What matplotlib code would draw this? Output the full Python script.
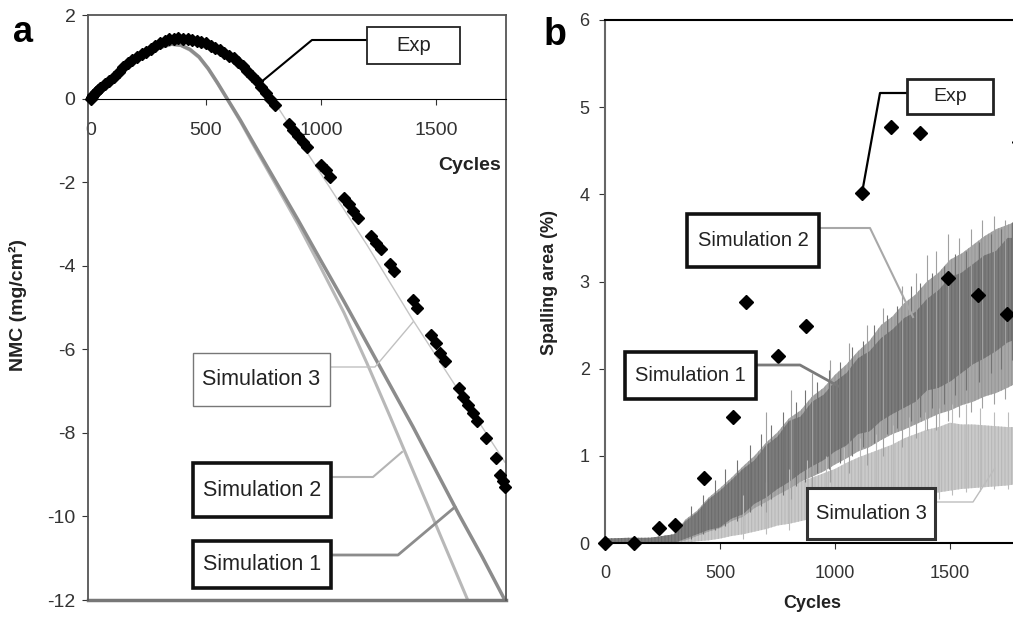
import matplotlib
matplotlib.use('Agg')
import matplotlib.pyplot as plt
from matplotlib.patches import Rectangle
from matplotlib.lines import Line2D

plt.rcParams['font.family'] = ['Liberation Sans', 'DejaVu Sans']
plt.rcParams['axes.unicode_minus'] = False
plt.rcParams['hatch.linewidth'] = 0.7

# ---- panel a : NMC vs cycles ----
exp_a_x = [0, 5, 10, 20, 30, 40, 60, 80, 100, 120, 140, 160, 180, 200,
           220, 240, 260, 280, 300, 320, 340, 360, 380, 400,
           420, 440, 460, 480, 500, 520, 540, 560, 580, 600,
           620, 640, 660, 680, 700, 720, 740, 760, 780, 800,
           860, 880, 900, 920, 940, 1000, 1020, 1040, 1100, 1120, 1140, 1160,
           1220, 1240, 1260, 1300, 1320, 1400, 1420, 1480, 1500, 1520, 1540,
           1600, 1620, 1640, 1660, 1680, 1720, 1760, 1780, 1790, 1800]
exp_a_y = [0, 0.04, 0.08, 0.15, 0.21, 0.26, 0.34, 0.42, 0.52, 0.64, 0.76, 0.86, 0.93, 1.0,
           1.07, 1.12, 1.18, 1.25, 1.32, 1.37, 1.42, 1.43, 1.44, 1.43,
           1.42, 1.40, 1.38, 1.35, 1.32, 1.27, 1.22, 1.17, 1.10, 1.03,
           0.96, 0.88, 0.77, 0.65, 0.54, 0.42, 0.28, 0.14, 0.0, -0.15,
           -0.60, -0.75, -0.89, -1.03, -1.16, -1.58, -1.72, -1.87, -2.37, -2.53, -2.69, -2.85,
           -3.30, -3.45, -3.61, -3.95, -4.12, -4.83, -5.02, -5.65, -5.86, -6.08, -6.29,
           -6.93, -7.13, -7.33, -7.52, -7.72, -8.12, -8.6, -9.0, -9.15, -9.3]

sim_a_x = [0, 50, 100, 150, 200, 250, 300, 350, 390, 430, 470, 510, 550, 590, 650, 700,
           800, 900, 1000, 1100, 1200, 1300, 1400, 1500, 1600, 1700, 1800]
sim1_a = [0, 0.3, 0.55, 0.77, 0.95, 1.1, 1.22, 1.3, 1.28, 1.18, 1.0, 0.72, 0.38, 0.02, -0.52, -1.0,
          -1.95, -2.9, -3.88, -4.85, -5.85, -6.85, -7.85, -8.9, -9.95, -10.95, -12.0]
sim2_a = [0, 0.3, 0.55, 0.77, 0.95, 1.1, 1.22, 1.3, 1.27, 1.16, 0.98, 0.7, 0.36, 0.0, -0.55, -1.05,
          -2.02, -3.0, -4.05, -5.12, -6.33, -7.6, -8.9, -10.2, -11.5, -12.8, -14.0]
sim3_a = [0, 0.3, 0.55, 0.8, 0.98, 1.12, 1.25, 1.33, 1.36, 1.33, 1.26, 1.17, 1.07, 0.96, 0.75, 0.55,
          -0.1, -0.95, -1.8, -2.65, -3.5, -4.4, -5.3, -6.15, -7.0, -7.85, -8.7]

# ---- panel b : spalling area vs cycles ----
exp_b_x = [0, 126, 235, 304, 430, 557, 613, 752, 874, 1117, 1243, 1370, 1491, 1622, 1748, 1800]
exp_b_y = [0, 0, 0.17, 0.21, 0.75, 1.45, 2.77, 2.14, 2.49, 4.02, 4.77, 4.70, 3.04, 2.85, 2.63, 4.6]

band_x = [0, 100, 200, 300, 350, 400, 450, 500, 550, 600, 650, 700, 750, 800, 850, 900, 950, 1000,
          1050, 1100, 1150, 1200, 1250, 1300, 1350, 1400, 1450, 1500, 1550, 1600, 1650, 1700, 1750, 1800, 1850]
sim1_lo = [0, 0, 0, 0, 0.05, 0.1, 0.15, 0.18, 0.28, 0.33, 0.45, 0.52, 0.62, 0.7, 0.8, 0.88, 0.95, 1.05,
           1.12, 1.25, 1.28, 1.4, 1.48, 1.55, 1.62, 1.75, 1.78, 1.85, 1.95, 2.05, 2.12, 2.2, 2.3, 2.35, 2.45]
sim1_hi = [0.05, 0.06, 0.06, 0.1, 0.25, 0.35, 0.5, 0.6, 0.72, 0.85, 0.95, 1.12, 1.22, 1.4, 1.45, 1.62, 1.7, 1.85,
           1.95, 2.12, 2.2, 2.35, 2.45, 2.58, 2.65, 2.8, 2.9, 3.05, 3.1, 3.2, 3.3, 3.35, 3.5, 3.5, 3.55]
sim2_lo = [0, 0, 0, 0, 0.03, 0.08, 0.13, 0.17, 0.25, 0.3, 0.4, 0.47, 0.55, 0.62, 0.7, 0.76, 0.82, 0.9,
           0.97, 1.05, 1.1, 1.18, 1.25, 1.3, 1.36, 1.42, 1.48, 1.52, 1.58, 1.62, 1.68, 1.72, 1.78, 1.85, 1.9]
sim2_hi = [0.05, 0.05, 0.06, 0.1, 0.27, 0.37, 0.52, 0.63, 0.75, 0.88, 1.0, 1.15, 1.27, 1.43, 1.52, 1.68, 1.78, 1.93,
           2.05, 2.2, 2.32, 2.5, 2.6, 2.75, 2.85, 3.0, 3.1, 3.25, 3.32, 3.42, 3.52, 3.6, 3.65, 3.7, 3.75]
sim3_lo = [0, 0, 0, 0, 0, 0.02, 0.03, 0.05, 0.08, 0.1, 0.13, 0.16, 0.2, 0.22, 0.25, 0.28, 0.3, 0.33,
           0.36, 0.4, 0.42, 0.45, 0.48, 0.5, 0.53, 0.55, 0.58, 0.6, 0.62, 0.63, 0.64, 0.65, 0.66, 0.68, 0.7]
sim3_hi = [0.05, 0.05, 0.06, 0.06, 0.12, 0.18, 0.22, 0.28, 0.35, 0.42, 0.47, 0.54, 0.6, 0.66, 0.7, 0.75, 0.8, 0.85,
           0.92, 0.98, 1.03, 1.08, 1.13, 1.2, 1.25, 1.3, 1.33, 1.38, 1.36, 1.36, 1.35, 1.34, 1.33, 1.33, 1.33]

# streaks sticking out of the bands
sim1_sp_x = [375, 425, 480, 520, 575, 630, 680, 720, 775, 830, 870, 920, 975, 1020, 1075,
             1120, 1170, 1225, 1270, 1330, 1370, 1420, 1475, 1520, 1570, 1625, 1680, 1720, 1770]
sim1_sp_lo = [0.05, 0.1, 0.15, 0.2, 0.25, 0.35, 0.42, 0.5, 0.55, 0.65, 0.7, 0.8, 0.85, 0.92, 1.0,
              1.1, 1.15, 1.25, 1.32, 1.4, 1.45, 1.55, 1.6, 1.7, 1.75, 1.85, 1.95, 2.0, 2.1]
sim1_sp_hi = [0.42, 0.55, 0.72, 0.85, 0.95, 1.12, 1.25, 1.35, 1.5, 1.62, 1.75, 1.85, 1.98, 2.08, 2.25,
              2.32, 2.5, 2.62, 2.72, 2.95, 2.98, 3.1, 3.18, 3.32, 3.35, 3.45, 3.55, 3.6, 3.68]
sim2_sp_x = [700, 810, 900, 980, 1060, 1140, 1210, 1290, 1350, 1400, 1440, 1490, 1540, 1590, 1640, 1690, 1740, 1790]
sim2_sp_lo = [0.35, 0.5, 0.6, 0.7, 0.8, 0.9, 1.0, 1.1, 1.2, 1.3, 1.3, 1.4, 1.45, 1.5, 1.55, 1.6, 1.65, 1.7]
sim2_sp_hi = [1.5, 1.75, 1.95, 2.1, 2.3, 2.5, 2.7, 2.95, 3.1, 3.3, 3.35, 3.55, 3.5, 3.6, 3.7, 3.75, 3.7, 3.8]
sim3_sp_x = [600, 700, 800, 880, 960, 1040, 1110, 1180, 1250, 1320, 1390, 1450, 1510, 1570, 1630, 1690, 1750, 1800]
sim3_sp_lo = [0.05, 0.1, 0.15, 0.2, 0.22, 0.28, 0.3, 0.35, 0.4, 0.45, 0.48, 0.5, 0.55, 0.58, 0.6, 0.62, 0.62, 0.65]
sim3_sp_hi = [0.55, 0.7, 0.85, 0.95, 1.0, 1.1, 1.2, 1.25, 1.35, 1.45, 1.5, 1.55, 1.6, 1.6, 1.55, 1.5, 1.5, 1.55]

W, H = 1013, 617
fig = plt.figure(figsize=(W / 100, H / 100), dpi=100)


def box(x0, y0, x1, y1, text, lw, ec, fs):
    fig.add_artist(Rectangle((x0 / W, 1 - y1 / H), (x1 - x0) / W, (y1 - y0) / H,
                             transform=fig.transFigure, facecolor='white',
                             edgecolor=ec, linewidth=lw, zorder=5))
    fig.text((x0 + x1) / 2 / W, 1 - (y0 + y1) / 2 / H, text, ha='center', va='center',
             fontsize=fs, color='#222222', zorder=6)


def leader(pts, color, lw):
    fig.add_artist(Line2D([p[0] / W for p in pts], [1 - p[1] / H for p in pts],
                          transform=fig.transFigure, color=color, linewidth=lw, zorder=4))


# panel a
ax = fig.add_axes([88 / W, 1 - 600 / H, 418 / W, 585 / H])
ax.plot(sim_a_x, sim3_a, color='#c4c4c4', lw=1.0)
ax.plot(sim_a_x, sim2_a, color='#b8b8b8', lw=2.2)
ax.plot(sim_a_x, sim1_a, color='#8c8c8c', lw=2.5)
ax.plot(exp_a_x, exp_a_y, 'D', color='black', ms=6, clip_on=False, zorder=3)
ax.set_xlim(-13, 1805)
ax.set_ylim(-12, 2)
ax.spines['bottom'].set_position(('data', 0))
ax.spines['bottom'].set_color('black')
for s in ['left', 'top', 'right']:
    ax.spines[s].set_color('#555555')
    ax.spines[s].set_linewidth(1.3)
ax.axhline(-12, color='#777777', lw=2.5, clip_on=False)
ax.set_xticks([0, 500, 1000, 1500])
ax.set_yticks([2, 0, -2, -4, -6, -8, -10, -12])
ax.tick_params(axis='x', labelsize=14, pad=13, length=4, colors='#333333')
ax.tick_params(axis='y', labelsize=14, pad=5, length=4, colors='#333333')
ax.text(1648, -1.6, 'Cycles', ha='center', va='center', fontsize=14, fontweight='bold', color='#222222')
fig.text(18 / W, 1 - 305 / H, 'NMC (mg/cm²)', rotation=90, ha='center', va='center',
         fontsize=14, fontweight='bold', color='#222222')
fig.text(23 / W, 1 - 33 / H, 'a', ha='center', va='center', fontsize=26, fontweight='bold')

box(367, 27, 460, 64, 'Exp', 1.3, '#222222', 14.5)
leader([(367, 40), (312, 40), (260, 83)], 'black', 1.5)
box(193, 353, 330, 406, 'Simulation 3', 1.0, '#777777', 15.5)
leader([(330, 367), (375, 367), (413, 322)], '#c0c0c0', 1.0)
box(193, 463, 331, 517, 'Simulation 2', 2.6, '#111111', 15.5)
leader([(331, 477), (373, 477), (402, 452)], '#b4b4b4', 1.5)
box(193, 541, 331, 588, 'Simulation 1', 2.6, '#111111', 15.5)
leader([(331, 555), (398, 555), (455, 507)], '#8c8c8c', 2.0)

# panel b
bx = fig.add_axes([605 / W, 1 - 543 / H, 460 / W, 523 / H])
bx.fill_between(band_x, sim3_lo, sim3_hi, facecolor='#cacaca', edgecolor='#b6b6b6', hatch='|||||', lw=0)
bx.vlines(sim3_sp_x, sim3_sp_lo, sim3_sp_hi, color='#bcbcbc', lw=0.8)
bx.fill_between(band_x, sim2_lo, sim2_hi, facecolor='#a8a8a8', edgecolor='#959595', hatch='|||||', lw=0)
bx.vlines(sim2_sp_x, sim2_sp_lo, sim2_sp_hi, color='#a0a0a0', lw=0.8)
bx.fill_between(band_x, sim1_lo, sim1_hi, facecolor='#7c7c7c', edgecolor='#6a6a6a', hatch='|||||', lw=0)
bx.vlines(sim1_sp_x, sim1_sp_lo, sim1_sp_hi, color='#737373', lw=0.8)
bx.plot(exp_b_x, exp_b_y, 'D', color='black', ms=7.5, clip_on=False, zorder=3)
bx.set_xlim(0, 2000)
bx.set_ylim(0, 6)
bx.spines['left'].set_color('#666666')
bx.spines['left'].set_linewidth(1.5)
bx.spines['bottom'].set_linewidth(1.5)
bx.spines['top'].set_linewidth(1.5)
bx.set_xticks([0, 500, 1000, 1500])
bx.set_yticks([0, 1, 2, 3, 4, 5, 6])
bx.tick_params(axis='x', labelsize=13, pad=12, length=4, colors='#333333')
bx.tick_params(axis='y', labelsize=13, pad=7, length=4, colors='#333333')
fig.text(812 / W, 1 - 603 / H, 'Cycles', ha='center', va='center', fontsize=13,
         fontweight='bold', color='#222222')
fig.text(549 / W, 1 - 282 / H, 'Spalling area (%)', rotation=90, ha='center', va='center',
         fontsize=13, fontweight='bold', color='#222222')
fig.text(555 / W, 1 - 35 / H, 'b', ha='center', va='center', fontsize=27, fontweight='bold')

box(907, 79, 993, 114, 'Exp', 2.0, '#222222', 14)
leader([(907, 93), (880, 93), (862, 193)], 'black', 1.6)
box(687, 214, 819, 267, 'Simulation 2', 2.6, '#111111', 14.5)
leader([(819, 228), (870, 228), (913, 317)], '#a8a8a8', 1.5)
box(625, 352, 756, 399, 'Simulation 1', 2.6, '#111111', 14.5)
leader([(756, 365), (800, 365), (838, 386)], '#7a7a7a', 2.0)
box(807, 488, 935, 539, 'Simulation 3', 2.2, '#333333', 14.5)
leader([(935, 502), (973, 502), (995, 468)], '#bdbdbd', 1.0)

fig.savefig('out.png', dpi=100)
